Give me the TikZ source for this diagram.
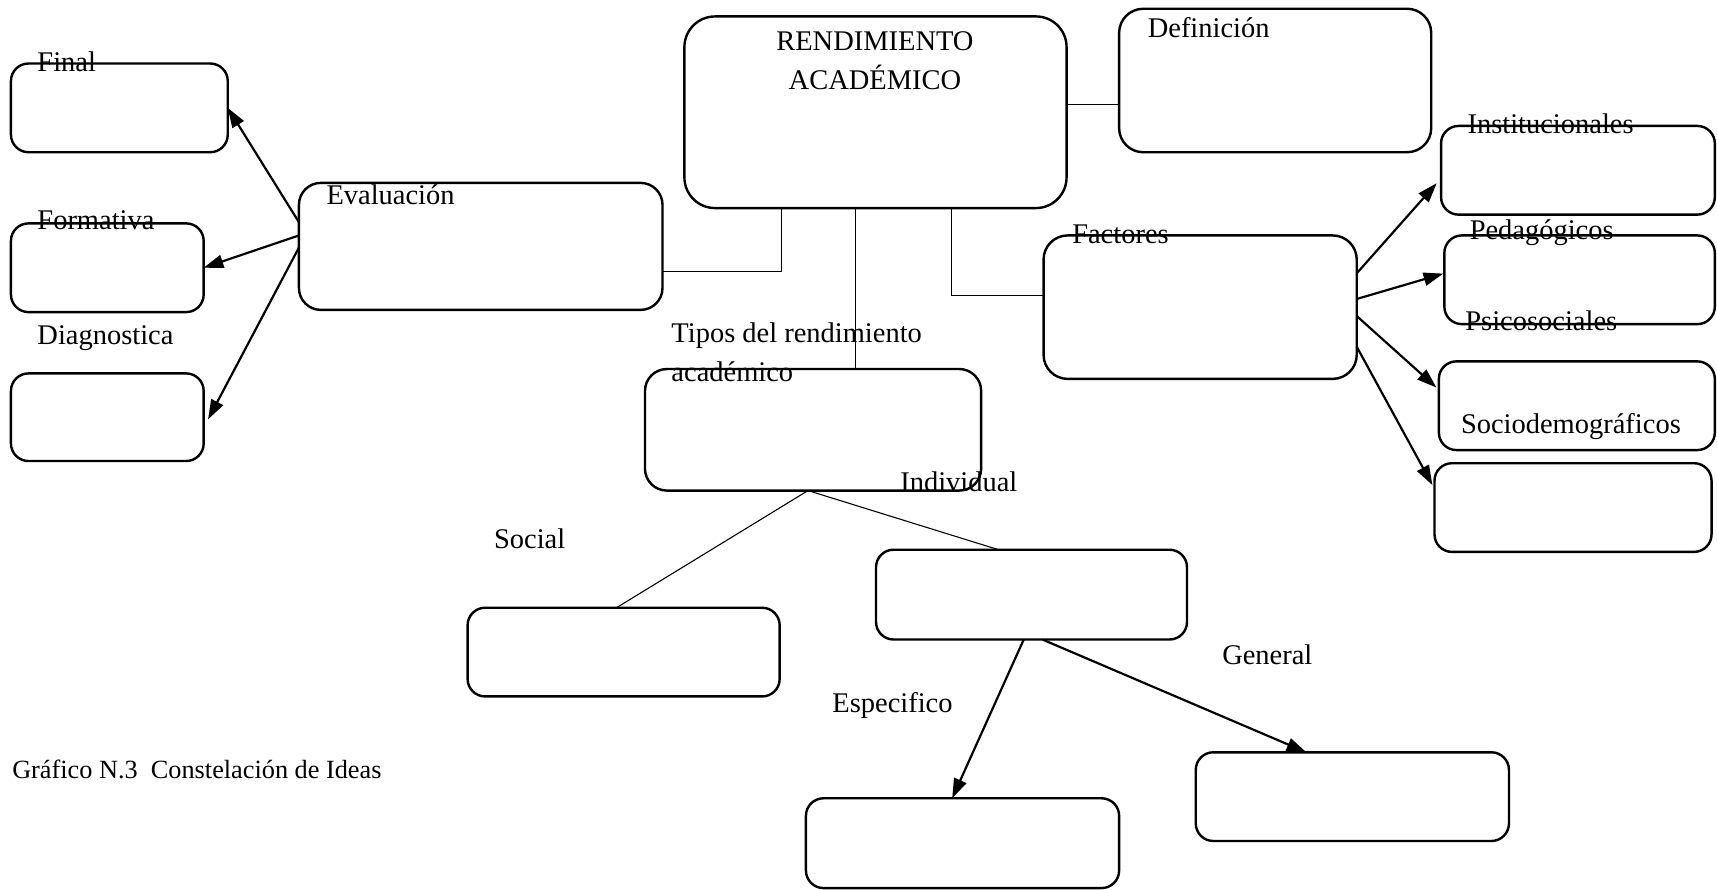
\documentclass[tikz,border=0pt]{standalone}
\usepackage{fontspec}
\setmainfont{Liberation Serif}
\usetikzlibrary{arrows.meta,calc}
\tikzset{
  box/.style={draw, line width=2.2pt, rounded corners=16pt, inner sep=0pt, outer sep=0pt},
  lbl/.style={anchor=base west, inner sep=0pt, font=\fontsize{26}{30}\selectfont},
  clbl/.style={anchor=base, inner sep=0pt, font=\fontsize{26}{30}\selectfont},
  thinline/.style={line width=1pt},
  arr/.style={line width=2pt, -{Triangle[length=18pt,width=12pt]}},
}
\begin{document}
\begin{tikzpicture}[x=1pt,y=-1pt]
\useasboundingbox (0,0) rectangle (1568,812);
% boxes
\node[box, minimum width=198pt, minimum height=81pt] (final) at (109,98.5) {};
\node[box, minimum width=176pt, minimum height=81pt] (form) at (98,244.5) {};
\node[box, minimum width=176pt, minimum height=80pt] (diag) at (98,381) {};
\node[box, minimum width=332pt, minimum height=116pt, rounded corners=20pt] (eval) at (439,225) {};
\node[box, minimum width=349pt, minimum height=175pt, rounded corners=28pt] (ra) at (799.5,102.5) {};
\node[box, minimum width=285pt, minimum height=131pt, rounded corners=22pt] (def) at (1164.5,73.5) {};
\node[box, minimum width=286pt, minimum height=131pt, rounded corners=22pt] (fact) at (1096,280.5) {};
\node[box, minimum width=250pt, minimum height=81pt] (inst) at (1441,155.5) {};
\node[box, minimum width=247pt, minimum height=81pt] (ped) at (1442.5,255.5) {};
\node[box, minimum width=252pt, minimum height=81pt] (psi) at (1440,370.5) {};
\node[box, minimum width=253pt, minimum height=81pt] (soc) at (1436.5,463.5) {};
\node[box, minimum width=307pt, minimum height=111pt, rounded corners=20pt] (tipos) at (742.5,392.5) {};
\node[box, minimum width=284pt, minimum height=82pt] (indiv) at (942,543) {};
\node[box, minimum width=285pt, minimum height=81pt] (social) at (569.5,595.5) {};
\node[box, minimum width=286pt, minimum height=82pt] (espec) at (879,770) {};
\node[box, minimum width=286pt, minimum height=81pt] (gen) at (1235,727.5) {};
% thin connectors
\draw[thinline] ($(ra.north east)!0.46!(ra.south east)$) coordinate (rd) -- (rd -| def.west);
\draw[thinline] ($(ra.south west)!0.253!(ra.south east)$) |- ($(eval.north east)!0.70!(eval.south east)$);
\draw[thinline] ($(ra.south west)!0.447!(ra.south east)$) coordinate (rt) -- (rt |- tipos.north);
\draw[thinline] ($(ra.south west)!0.699!(ra.south east)$) |- ($(fact.north west)!0.42!(fact.south west)$);
\draw[thinline] ($(tipos.south west)!0.485!(tipos.south east)$) coordinate (tb) -- ($(social.north west)!0.477!(social.north east)$);
\draw[thinline] (tb) -- ($(indiv.north west)!0.394!(indiv.north east)$);
% arrows
\draw[arr] ($(eval.north west)!0.31!(eval.south west)$) -- (final.east);
\draw[arr] ($(eval.north west)!0.414!(eval.south west)$) -- (form.east);
\draw[arr] ($(eval.north west)!0.509!(eval.south west)$) -- ([xshift=4pt,yshift=-2pt]diag.east);
\draw[arr, shorten >=6pt] ($(fact.north east)!0.264!(fact.south east)$) -- ($(inst.north west)!0.59!(inst.south west)$);
\draw[arr, shorten >=1pt] ($(fact.north east)!0.443!(fact.south east)$) -- ($(ped.north west)!0.427!(ped.south west)$);
\draw[arr, shorten >=3pt] ($(fact.north east)!0.562!(fact.south east)$) -- ($(psi.north west)!0.32!(psi.south west)$);
\draw[arr, shorten >=4pt] ($(fact.north east)!0.776!(fact.south east)$) -- ($(soc.north west)!0.29!(soc.south west)$);
\draw[arr] ($(indiv.south west)!0.475!(indiv.south east)$) -- ($(espec.north west)!0.467!(espec.north east)$);
\draw[arr] ($(indiv.south west)!0.535!(indiv.south east)$) -- ($(gen.north west)!0.353!(gen.north east)$);
% labels
\node[lbl] (tfinal) at (34,65) {Final};
\node[lbl] (tform) at (34,210) {Formativa};
\node[lbl] (tdiag) at (34,315) {Diagnostica};
\node[lbl] (teval) at (298,187) {Evaluación};
\node[clbl] (tra1) at (799,46) {RENDIMIENTO};
\node[clbl] (tra2) at (799,82) {ACADÉMICO};
\node[lbl] (tdef) at (1048,34) {Definición};
\node[lbl] (tfact) at (979,222) {Factores};
\node[lbl] (tinst) at (1340,122) {Institucionales};
\node[lbl] (tped) at (1342,219) {Pedagógicos};
\node[lbl] (tpsi) at (1338,302) {Psicosociales};
\node[lbl] (tsoc) at (1334,396) {Sociodemográficos};
\node[lbl] (ttipos1) at (613,313) {Tipos del rendimiento};
\node[lbl] (ttipos2) at (613,348) {académico};
\node[lbl] (tindiv) at (822,449) {Individual};
\node[lbl] (tsocial) at (451,501) {Social};
\node[lbl] (tgen) at (1116,607) {General};
\node[lbl] (tespec) at (760,651) {Especifico};
\node[anchor=base west, inner sep=0pt, font=\fontsize{24}{28}\selectfont] (caption) at (11,711) {Gráfico N.3\ \ Constelación de Ideas};
\end{tikzpicture}
\end{document}
